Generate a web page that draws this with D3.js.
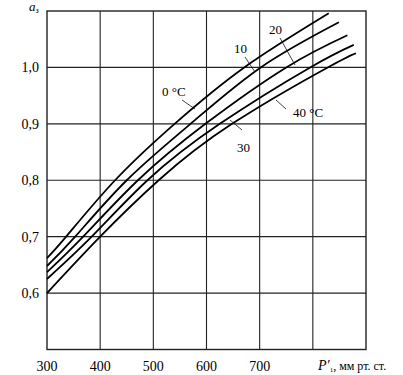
<!DOCTYPE html>
<html>
<head>
<meta charset="utf-8">
<script src="https://cdn.jsdelivr.net/npm/d3@7"></script>
<style>
  body { margin: 0; background: #fff; }
  svg text { font-family: "Liberation Serif", "DejaVu Serif", serif; fill: #000; }
</style>
</head>
<body>
<svg id="chart" width="403" height="375"></svg>
<script>
let xTicks = [300, 400, 500, 600, 700];
let xGrid = [400, 500, 600, 700, 800];
let yTicks = [0.6, 0.7, 0.8, 0.9, 1.0];
let yTickLabels = ["0,6", "0,7", "0,8", "0,9", "1,0"];

let temps = ["0", "10", "20", "30", "40"];
let curve0 = [[300, 0.662], [336, 0.70], [428, 0.80], [540, 0.90], [671, 1.00], [830, 1.096]];
let curve10 = [[300, 0.648], [353, 0.70], [450, 0.80], [570, 0.90], [702, 1.00], [849, 1.080]];
let curve20 = [[300, 0.637], [368, 0.70], [471, 0.80], [598, 0.90], [750, 1.00], [865, 1.057]];
let curve30 = [[300, 0.625], [384, 0.70], [489, 0.80], [625, 0.90], [795, 1.00], [877, 1.040]];
let curve40 = [[300, 0.600], [400, 0.70], [510, 0.80], [648, 0.90], [828, 1.00], [881, 1.025]];
let curves = [curve0, curve10, curve20, curve30, curve40];

let svg = d3.select("#chart");

let x = d3.scaleLinear().domain([300, 900]).range([47, 366]);
let y = d3.scaleLinear().domain([0.5, 1.1]).range([349.5, 11]);

// grid
svg.selectAll("line.vgrid")
    .data(xGrid)
    .enter().append("line")
    .attr("x1", d => x(d)).attr("x2", d => x(d))
    .attr("y1", y(1.1)).attr("y2", y(0.5))
    .attr("stroke", "#222").attr("stroke-width", 1.1);

svg.selectAll("line.hgrid")
    .data(yTicks)
    .enter().append("line")
    .attr("x1", x(300)).attr("x2", x(900))
    .attr("y1", d => y(d)).attr("y2", d => y(d))
    .attr("stroke", "#222").attr("stroke-width", 1.1);

// frame
svg.append("rect")
    .attr("x", x(300)).attr("y", y(1.1))
    .attr("width", x(900) - x(300))
    .attr("height", y(0.5) - y(1.1))
    .attr("fill", "none")
    .attr("stroke", "#222")
    .attr("stroke-width", 1.4);

// curves
let line = d3.line()
    .x(d => x(d[0]))
    .y(d => y(d[1]))
    .curve(d3.curveNatural);

svg.selectAll("path.curve")
    .data(curves)
    .enter().append("path")
    .attr("d", line)
    .attr("fill", "none")
    .attr("stroke", "#000")
    .attr("stroke-width", 1.8);

// tick labels
svg.selectAll("text.xt")
    .data(xTicks)
    .enter().append("text")
    .attr("x", d => x(d))
    .attr("y", 371)
    .attr("text-anchor", "middle")
    .attr("font-size", 14)
    .text(d => d);

svg.selectAll("text.yt")
    .data(yTicks)
    .enter().append("text")
    .attr("x", 39)
    .attr("y", d => y(d) + 5)
    .attr("text-anchor", "end")
    .attr("font-size", 14)
    .text((d, i) => yTickLabels[i]);

// axis titles
let yt = svg.append("text").attr("x", 29).attr("y", 11).attr("font-size", 13);
yt.append("tspan").attr("font-style", "italic").text("a");
yt.append("tspan").attr("font-size", 8).attr("dy", 2).text("з");

let xt = svg.append("text").attr("x", 318).attr("y", 370).attr("font-size", 12);
xt.append("tspan").attr("font-style", "italic").attr("font-size", 14).text("P′");
xt.append("tspan").attr("font-size", 7).attr("dy", 2).text("1");
xt.append("tspan").attr("dy", -2).text(", мм рт. ст.");

// curve labels with leaders
let labels = [
    {t: "0 °C", tx: 162, ty: 96, lx1: 182, ly1: 100, lx2: 195, ly2: 109},
    {t: "10", tx: 234, ty: 53, lx1: 245, ly1: 57, lx2: 255, ly2: 72},
    {t: "20", tx: 269, ty: 34, lx1: 280, ly1: 38, lx2: 295, ly2: 65},
    {t: "30", tx: 237, ty: 152, lx1: 242, ly1: 130, lx2: 230, ly2: 120},
    {t: "40 °C", tx: 293, ty: 117, lx1: 286, ly1: 109, lx2: 276, ly2: 100}
];
svg.selectAll("line.lead")
    .data(labels)
    .enter().append("line")
    .attr("x1", d => d.lx1).attr("y1", d => d.ly1)
    .attr("x2", d => d.lx2).attr("y2", d => d.ly2)
    .attr("stroke", "#111").attr("stroke-width", 0.8);
svg.selectAll("text.lab")
    .data(labels)
    .enter().append("text")
    .attr("x", d => d.tx).attr("y", d => d.ty)
    .attr("font-size", 13)
    .text(d => d.t);
</script>
</body>
</html>
